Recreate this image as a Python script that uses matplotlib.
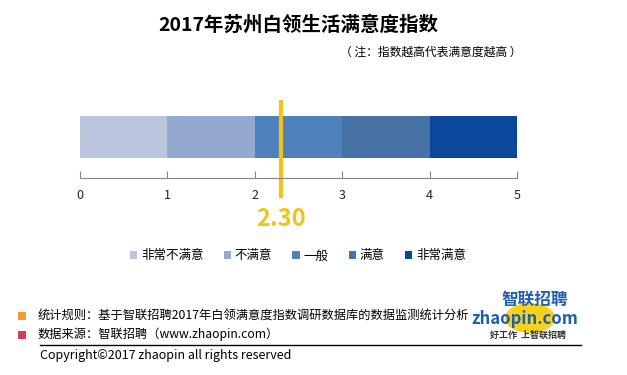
import matplotlib
matplotlib.use('Agg')
import matplotlib.pyplot as plt
from matplotlib.patches import Patch, Circle

plt.rcParams['font.family'] = ['Noto Sans CJK SC', 'DejaVu Sans']

# data
levels = ['非常不满意', '不满意', '一般', '满意', '非常满意']
starts = [0, 1, 2, 3, 4]
widths = [1, 1, 1, 1, 1]
colors = ['#B9C6DE', '#93A9D0', '#4F81BD', '#4672A6', '#09489A']
score = 2.30
ticks = [0, 1, 2, 3, 4, 5]

W, H = 627, 375
fig = plt.figure(figsize=(W / 100, H / 100), dpi=100)

def fx(px):
    return px / W

def fy(py):
    return 1 - py / H

ax = fig.add_axes([fx(80), fy(178), fx(437), 78 / H])
ax.barh(0.525, widths, left=starts, height=0.54, color=colors, edgecolor='none')
ax.set_xlim(0, 5)
ax.set_ylim(0, 1)
for s in ['top', 'left', 'right']:
    ax.spines[s].set_visible(False)
ax.spines['bottom'].set_color('#868686')
ax.set_yticks([])
ax.set_xticks(ticks)
ax.tick_params(axis='x', direction='in', length=5, color='#868686',
               labelsize=9, pad=8, labelcolor='#222222')

ax.plot([score, score], [1.0, -0.25], color='#F2C318', lw=3,
        clip_on=False, solid_capstyle='butt')
ax.text(score, -0.52, f'{score:.2f}', color='#F2C318', fontsize=17,
        fontweight='bold', ha='center', va='center', clip_on=False)

fig.text(fx(298), fy(25), '2017年苏州白领生活满意度指数', fontsize=14,
         fontweight='bold', ha='center', va='center')
fig.text(fx(522), fy(52), '（ 注：指数越高代表满意度越高 ）', fontsize=8.5,
         ha='right', va='center')

handles = [Patch(facecolor=c, edgecolor='none') for c in colors]
fig.legend(handles, levels, loc='center', bbox_to_anchor=(fx(298), fy(256)),
           ncol=5, frameon=False, fontsize=9, handlelength=0.6,
           handleheight=0.6, handletextpad=0.3, columnspacing=1.6)

# footer
fig.text(fx(38), fy(315), '统计规则：基于智联招聘2017年白领满意度指数调研数据库的数据监测统计分析',
         fontsize=8.8, ha='left', va='center')
fig.text(fx(38), fy(334), '数据来源：智联招聘（www.zhaopin.com）',
         fontsize=8.8, ha='left', va='center')
fig.text(fx(40), fy(356), 'Copyright©2017 zhaopin all rights reserved',
         fontsize=9, ha='left', va='center')
fig.add_artist(plt.Line2D([fx(40), fx(581)], [fy(345), fy(345)],
                          color='black', lw=1))
fig.add_artist(plt.Rectangle((fx(18), fy(320)), fx(8), 8 / H,
                             color='#F0A030', lw=0))
fig.add_artist(plt.Rectangle((fx(18), fy(339)), fx(8), 8 / H,
                             color='#D0405A', lw=0))

# logo
fig.add_artist(Circle((fx(530), fy(318)), 0.04, transform=fig.transFigure,
                      color='#F7D21C', lw=0))
fig.text(fx(535), fy(300), '智联招聘', fontsize=12, fontweight='bold',
         color='#1F5FAE', ha='center', va='center', style='italic')
fig.text(fx(525), fy(319), 'zhaopin.com', fontsize=12, fontweight='bold',
         color='#1F5FAE', ha='center', va='center', style='italic')
fig.text(fx(528), fy(335), '好工作  上智联招聘', fontsize=6.5, fontweight='bold',
         color='#333333', ha='center', va='center', style='italic')

fig.savefig('out.png', dpi=100, facecolor='white')
